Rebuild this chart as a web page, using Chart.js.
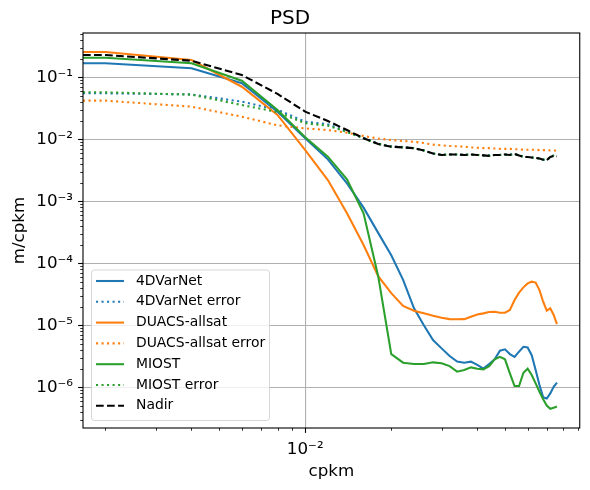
<!DOCTYPE html>
<html>
<head>
<meta charset="utf-8">
<script src="https://cdn.jsdelivr.net/npm/chart.js@4.4.1/dist/chart.umd.min.js"></script>
<style>
  html, body { margin: 0; padding: 0; background: #fff; }
  #psd { display: block; }
</style>
</head>
<body>
<canvas id="psd" width="590" height="490"></canvas>
<script>
// wavenumbers in cpkm; the 0 lands on the left edge of the log axis (like matplotlib clipping)
const freq = [0, 0.002, 0.004, 0.006, 0.008, 0.010, 0.012, 0.014, 0.016, 0.018, 0.020,
  0.022, 0.024, 0.026, 0.028, 0.030, 0.032, 0.034, 0.036, 0.038, 0.040, 0.042, 0.044,
  0.046, 0.048, 0.050, 0.052, 0.054, 0.056, 0.058, 0.060, 0.062, 0.064, 0.066, 0.068,
  0.070, 0.072, 0.074, 0.076];

const psd4dvarnet = [0.168, 0.168, 0.140, 0.080, 0.0279, 0.0104, 0.00475, 0.00195, 7.9e-4, 3.1e-4,
  1.35e-4, 5.4e-5, 1.9e-5, 1.0e-5, 5.8e-6, 4.25e-6, 3.2e-6, 2.6e-6, 2.5e-6, 2.6e-6,
  2.3e-6, 2.0e-6, 2.38e-6, 2.83e-6, 3.9e-6, 4.1e-6, 3.44e-6, 3.1e-6, 3.76e-6, 4.5e-6,
  4.4e-6, 3.3e-6, 1.9e-6, 1.09e-6, 6.9e-7, 6.6e-7, 8e-7, 1.02e-6, 1.19e-6];
const err4dvarnet = [0.0552, 0.0552, 0.053, 0.0405, 0.030, 0.0192, 0.0175, 0.0133, 0.0106, 0.0085,
  0.0077, 0.0075, 0.0072, 0.0066, 0.0059, 0.0056, 0.0057, 0.0057, 0.0056, 0.0057,
  0.0056, 0.0055, 0.0055, 0.0056, 0.0056, 0.0057, 0.0057, 0.0058, 0.0055, 0.0053,
  0.0052, 0.0051, 0.0050, 0.0049, 0.0047, 0.0046, 0.0052, 0.0055, 0.0054];
const psdDuacs = [0.256, 0.256, 0.19, 0.0705, 0.0247, 0.0067, 0.0022, 6.4e-4, 1.97e-4, 6.2e-5,
  3.3e-5, 2.05e-5, 1.72e-5, 1.56e-5, 1.43e-5, 1.33e-5, 1.26e-5, 1.25e-5, 1.26e-5, 1.38e-5,
  1.5e-5, 1.56e-5, 1.64e-5, 1.66e-5, 1.6e-5, 1.6e-5, 1.77e-5, 2.56e-5, 3.36e-5, 4.1e-5,
  4.75e-5, 5.06e-5, 4.9e-5, 3.7e-5, 2.4e-5, 1.72e-5, 1.88e-5, 1.47e-5, 1.05e-5];
const errDuacs = [0.042, 0.042, 0.0336, 0.0232, 0.0168, 0.015, 0.0141, 0.0128, 0.0113, 0.0103,
  0.0097, 0.0094, 0.0091, 0.0087, 0.0082, 0.0080, 0.0078, 0.0077, 0.0076, 0.0074,
  0.0073, 0.0072, 0.0072, 0.0071, 0.0070, 0.0070, 0.0070, 0.0069, 0.0069, 0.0068,
  0.0068, 0.0068, 0.0068, 0.0067, 0.0067, 0.0067, 0.0066, 0.0066, 0.0066];
const psdMiost = [0.207, 0.207, 0.168, 0.088, 0.0297, 0.0108, 0.00525, 0.00226, 6.4e-4, 6.2e-5,
  3.44e-6, 2.5e-6, 2.38e-6, 2.38e-6, 2.53e-6, 2.45e-6, 2.2e-6, 1.79e-6, 1.9e-6, 2.1e-6,
  2.0e-6, 1.95e-6, 2.2e-6, 2.83e-6, 3.1e-6, 2.83e-6, 1.68e-6, 1.05e-6, 1.05e-6, 1.72e-6,
  2.0e-6, 1.58e-6, 1.16e-6, 8.5e-7, 6.4e-7, 5.1e-7, 4.5e-7, 4.7e-7, 4.9e-7];
const errMiost = [0.0573, 0.0573, 0.0525, 0.0357, 0.0275, 0.0181, 0.0166, 0.0131, 0.0103, 0.0084,
  0.0076, 0.0074, 0.0072, 0.0066, 0.0059, 0.0056, 0.0057, 0.0057, 0.0056, 0.0057,
  0.0056, 0.0055, 0.0054, 0.0056, 0.0056, 0.0057, 0.0056, 0.0058, 0.0055, 0.0052,
  0.0052, 0.0051, 0.0050, 0.0049, 0.0047, 0.0046, 0.0052, 0.0054, 0.0053];
const psdNadir = [0.229, 0.229, 0.185, 0.109, 0.054, 0.0279, 0.0197, 0.0141, 0.0104, 0.0084,
  0.0076, 0.0074, 0.0072, 0.0066, 0.0059, 0.0056, 0.0057, 0.0057, 0.0056, 0.0057,
  0.0056, 0.0055, 0.0054, 0.0056, 0.0056, 0.0057, 0.0056, 0.0058, 0.0055, 0.0052,
  0.0052, 0.0051, 0.0050, 0.0049, 0.0047, 0.0046, 0.0052, 0.0054, 0.0053];

const xMajorTicks = [0.01];
const xTickLabels = ['10\u207B\u00B2'];
const yMajorTicks = [1e-6, 1e-5, 1e-4, 1e-3, 1e-2, 1e-1];
const yTickLabels = ['10\u207B\u2076', '10\u207B\u2075', '10\u207B\u2074', '10\u207B\u00B3', '10\u207B\u00B2', '10\u207B\u00B9'];

const X_MIN = 0.001669, X_MAX = 0.0913;
const Y_MIN = 2.21e-7, Y_MAX = 0.518;

const FONT = "'DejaVu Sans', sans-serif";
const BLUE = '#1f77b4', ORANGE = '#ff7f0e', GREEN = '#2ca02c';
const LW = 2.08;
const DOTTED = [2.08, 3.44];
const DASHED = [7.7, 3.33];

function series( label, values, color, dash ) {
	return {
		label: label,
		data: freq.map( ( f, i ) => ( { x: f, y: values[ i ] } ) ),
		borderColor: color,
		backgroundColor: color,
		borderWidth: LW,
		borderDash: dash,
		pointRadius: 0,
		tension: 0,
		fill: false
	};
}

const datasets = [
	series( '4DVarNet', psd4dvarnet, BLUE, [] ),
	series( '4DVarNet error', err4dvarnet, BLUE, DOTTED ),
	series( 'DUACS-allsat', psdDuacs, ORANGE, [] ),
	series( 'DUACS-allsat error', errDuacs, ORANGE, DOTTED ),
	series( 'MIOST', psdMiost, GREEN, [] ),
	series( 'MIOST error', errMiost, GREEN, DOTTED ),
	series( 'Nadir', psdNadir, '#000000', DASHED )
];
// later series are drawn on top, as in matplotlib
datasets.forEach( ( d, i ) => { d.order = datasets.length - i; } );

// 1..9 x 10^n ticks inside [min, max]
function logTicks( min, max ) {
	const out = [];
	for ( let e = Math.floor( Math.log10( min ) ); e <= Math.ceil( Math.log10( max ) ); e++ ) {
		for ( let m = 1; m <= 9; m++ ) {
			const v = m * Math.pow( 10, e );
			if ( v >= min && v <= max ) {
				out.push( v );
			}
		}
	}
	return out;
}

function majorIndex( majors, v ) {
	return majors.findIndex( ( m ) => Math.abs( v / m - 1 ) < 1e-6 );
}

// tick marks: long for decades, short for the rest
const tickMarks = {
	id: 'tickMarks',
	afterDraw: function ( chart ) {
		const ctx = chart.ctx;
		const area = chart.chartArea;
		ctx.save();
		ctx.strokeStyle = '#000';
		chart.scales.x.ticks.forEach( ( t ) => {
			const major = majorIndex( xMajorTicks, t.value ) >= 0;
			const px = Math.round( chart.scales.x.getPixelForValue( t.value ) ) + 0.5;
			ctx.lineWidth = major ? 1.1 : 0.8;
			ctx.beginPath();
			ctx.moveTo( px, area.bottom );
			ctx.lineTo( px, area.bottom + ( major ? 4.9 : 2.8 ) );
			ctx.stroke();
		} );
		chart.scales.y.ticks.forEach( ( t ) => {
			const major = majorIndex( yMajorTicks, t.value ) >= 0;
			const py = Math.round( chart.scales.y.getPixelForValue( t.value ) ) + 0.5;
			ctx.lineWidth = major ? 1.1 : 0.8;
			ctx.beginPath();
			ctx.moveTo( area.left, py );
			ctx.lineTo( area.left - ( major ? 4.9 : 2.8 ), py );
			ctx.stroke();
		} );
		ctx.lineWidth = 1.1;
		ctx.strokeRect( area.left, area.top, area.right - area.left, area.bottom - area.top );
		ctx.restore();
	}
};

// matplotlib style legend in the lower left corner of the axes
const boxLegend = {
	id: 'boxLegend',
	afterDraw: function ( chart ) {
		const ctx = chart.ctx;
		const area = chart.chartArea;
		const x0 = area.left + 8, y0 = area.bottom - 8 - 150.5;
		const w = 178, h = 150.5, r = 3;
		ctx.save();
		ctx.beginPath();
		ctx.roundRect( x0 + 0.5, y0 + 0.5, w, h, r );
		ctx.fillStyle = 'rgba(255,255,255,0.8)';
		ctx.fill();
		ctx.strokeStyle = 'rgba(204,204,204,0.8)';
		ctx.lineWidth = 1;
		ctx.stroke();
		ctx.font = '13.9px ' + FONT;
		ctx.textBaseline = 'middle';
		chart.data.datasets.forEach( ( d, i ) => {
			const y = y0 + 11.5 + i * 20.8;
			ctx.strokeStyle = d.borderColor;
			ctx.lineWidth = d.borderWidth;
			ctx.setLineDash( d.borderDash );
			ctx.beginPath();
			ctx.moveTo( x0 + 5, y );
			ctx.lineTo( x0 + 33, y );
			ctx.stroke();
			ctx.setLineDash( [] );
			ctx.fillStyle = '#000';
			ctx.fillText( d.label, x0 + 45, y );
		} );
		ctx.restore();
	}
};

new Chart( document.getElementById( 'psd' ), {
	type: 'line',
	data: { datasets: datasets },
	options: {
		responsive: false,
		animation: false,
		devicePixelRatio: 1,
		layout: { padding: { left: 0, right: 10, top: 0, bottom: 0 } },
		plugins: {
			legend: { display: false },
			tooltip: { enabled: false },
			title: {
				display: true,
				text: 'PSD',
				color: '#000',
				font: { family: FONT, size: 20, weight: 'normal', lineHeight: 1.2 },
				padding: { top: 7, bottom: 2 }
			}
		},
		scales: {
			x: {
				type: 'logarithmic',
				min: X_MIN,
				max: X_MAX,
				afterBuildTicks: ( scale ) => {
					scale.ticks = logTicks( X_MIN, X_MAX ).map( ( v ) => ( { value: v } ) );
				},
				afterFit: ( scale ) => { scale.height = 62; },
				border: { display: false },
				grid: {
					drawTicks: false,
					lineWidth: 1.1,
					color: ( c ) => ( c.tick && majorIndex( xMajorTicks, c.tick.value ) >= 0 ? '#b0b0b0' : 'rgba(0,0,0,0)' )
				},
				ticks: {
					autoSkip: false,
					maxRotation: 0,
					padding: 12,
					color: '#000',
					font: { family: FONT, size: 16.7 },
					callback: ( v ) => {
						const i = majorIndex( xMajorTicks, v );
						return i >= 0 ? xTickLabels[ i ] : '';
					}
				},
				title: {
					display: true,
					text: 'cpkm',
					color: '#000',
					font: { family: FONT, size: 16.7, lineHeight: 1.2 },
					padding: { top: 0, bottom: 8 }
				}
			},
			y: {
				type: 'logarithmic',
				min: Y_MIN,
				max: Y_MAX,
				afterBuildTicks: ( scale ) => {
					scale.ticks = logTicks( Y_MIN, Y_MAX ).map( ( v ) => ( { value: v } ) );
				},
				afterFit: ( scale ) => { scale.width = 83; },
				border: { display: false },
				grid: {
					drawTicks: false,
					lineWidth: 1.1,
					color: ( c ) => ( c.tick && majorIndex( yMajorTicks, c.tick.value ) >= 0 ? '#b0b0b0' : 'rgba(0,0,0,0)' )
				},
				ticks: {
					autoSkip: false,
					padding: 10,
					color: '#000',
					font: { family: FONT, size: 16.7 },
					callback: ( v ) => {
						const i = majorIndex( yMajorTicks, v );
						return i >= 0 ? yTickLabels[ i ] : '';
					}
				},
				title: {
					display: true,
					text: 'm/cpkm',
					color: '#000',
					font: { family: FONT, size: 16.7, lineHeight: 1.2 },
					padding: { top: 10, bottom: 0 }
				}
			}
		}
	},
	plugins: [ tickMarks, boxLegend ]
} );
</script>
</body>
</html>
